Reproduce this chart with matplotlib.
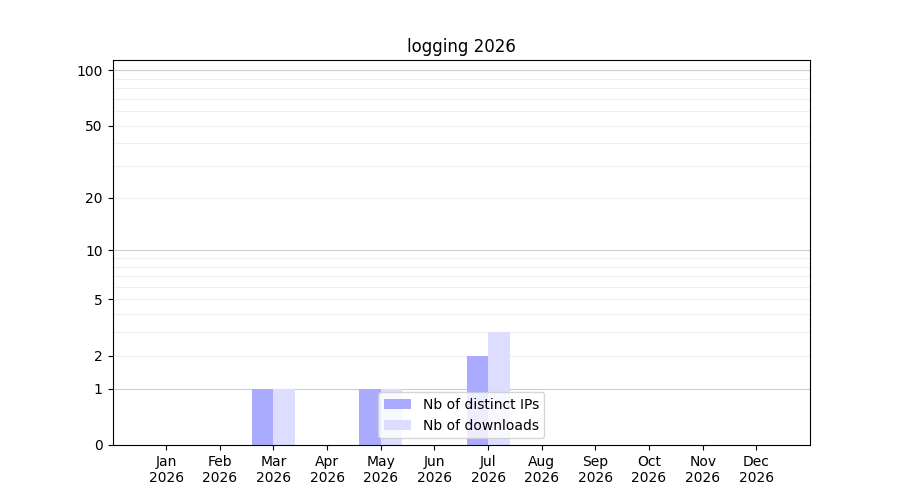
import numpy as np
import matplotlib
matplotlib.use("Agg")
import matplotlib.pyplot as plt
from matplotlib.ticker import FixedLocator

months = ["Jan", "Feb", "Mar", "Apr", "May", "Jun", "Jul", "Aug", "Sep", "Oct", "Nov", "Dec"]
year = "2026"
distinct_ips = [0, 0, 1, 0, 1, 0, 2, 0, 0, 0, 0, 0]
downloads = [0, 0, 1, 0, 1, 0, 3, 0, 0, 0, 0, 0]
ytick_vals = [0, 1, 2, 5, 10, 20, 50, 100]

fig, ax = plt.subplots(figsize=(9, 5), dpi=100)

def fwd(v):
    return np.log10(1 + np.clip(v, 0, None))

def inv(v):
    return 10 ** v - 1

ax.set_yscale("function", functions=(fwd, inv))

x = np.arange(len(months))
w = 0.4
ax.bar(x - w / 2, distinct_ips, width=w, color="#aaaaff", label="Nb of distinct IPs", zorder=2)
ax.bar(x + w / 2, downloads, width=w, color="#ddddff", label="Nb of downloads", zorder=2)

ax.set_xticks(x)
ax.set_xticklabels([f"{m}\n{year}" for m in months])
ax.set_xlim(-1, 12)
ax.set_ylim(0, 113.5)

ax.yaxis.set_major_locator(FixedLocator(ytick_vals))
ax.set_yticklabels([str(v) for v in ytick_vals])
minor_vals = [3, 4, 6, 7, 8, 9, 30, 40, 60, 70, 80, 90]
ax.yaxis.set_minor_locator(FixedLocator(minor_vals))
ax.tick_params(axis="y", which="minor", length=0)
ax.yaxis.set_minor_formatter(plt.NullFormatter())

ax.grid(True, axis="y", which="minor", color="#eeeeee", linewidth=0.8, zorder=0)
ax.grid(True, axis="y", which="major", color="#eeeeee", linewidth=0.8, zorder=0)
for tick, v in zip(ax.yaxis.get_major_ticks(), ytick_vals):
    if v in (1, 10, 100):
        tick.gridline.set_color("#cccccc")
    if v == 0:
        tick.gridline.set_visible(False)
ax.set_axisbelow(True)

ax.set_title("logging 2026")
ax.legend(loc="lower center")

fig.savefig("out.png", dpi=100)
